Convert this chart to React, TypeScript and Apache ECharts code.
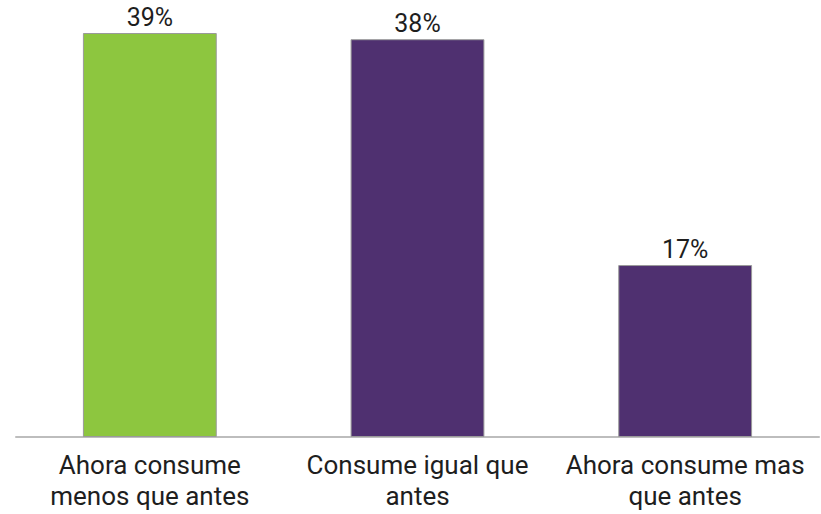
import React, { useEffect, useRef } from "react";
import * as echarts from "echarts";

const categories = ["Ahora consume\nmenos que antes", "Consume igual que\nantes", "Ahora consume mas\nque antes"];
const values = [39, 38.4, 16.6];
const barColors = ["#8dc63f", "#4f3070", "#4f3070"];

export default function App() {
  const ref = useRef<HTMLDivElement>(null);
  useEffect(() => {
    document.body.style.margin = "0";
    const chart = echarts.init(ref.current!, null, { renderer: "svg" });
    chart.setOption({
      animation: false,
      grid: { left: 16, right: 2, top: 33, bottom: 77, containLabel: false },
      xAxis: {
        type: "category",
        data: categories,
        axisLine: { show: true, lineStyle: { color: "#bdbdbd", width: 2 } },
        axisTick: { show: false },
        axisLabel: {
          color: "#1e1e1e",
          fontFamily: "Roboto",
          fontSize: 26,
          lineHeight: 31,
          margin: 12,
          interval: 0,
        },
      },
      yAxis: {
        type: "value",
        min: 0,
        max: 39,
        show: false,
        splitLine: { show: false },
      },
      series: [
        {
          type: "bar",
          barWidth: "50%",
          data: values.map((v, i) => ({
            value: v,
            itemStyle: { color: barColors[i], borderColor: "#9a9a9a", borderWidth: 1 },
          })),
          label: {
            show: true,
            position: "top",
            distance: 3,
            color: "#1e1e1e",
            fontFamily: "Roboto",
            fontSize: 25,
            formatter: (p: any) => Math.round(p.value) + "%",
          },
        },
      ],
    });
    return () => chart.dispose();
  }, []);
  return <div ref={ref} style={{ width: 821, height: 514 }} />;
}
